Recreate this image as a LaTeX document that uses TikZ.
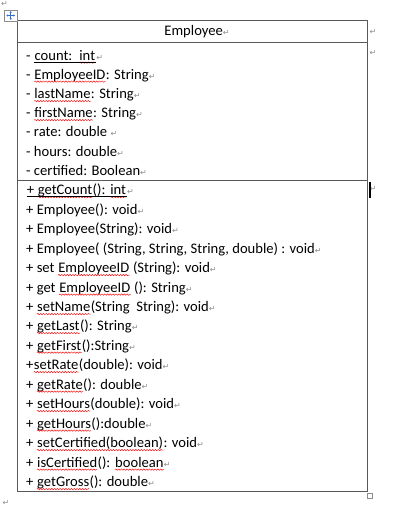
\documentclass[tikz,border=0pt]{standalone}
\usepackage{fontspec}
\setmainfont{Carlito}
\newfontfamily\dv{DejaVu Sans}
\usetikzlibrary{arrows.meta,decorations.pathmorphing}
\definecolor{border}{HTML}{595959}
\definecolor{markgray}{HTML}{8C8C8C}
\definecolor{handleblue}{HTML}{2E6FD0}
\tikzset{
  txt/.style={anchor=base west, inner sep=0pt, font=\fontsize{14.6}{16}\selectfont},
  pmark/.style={inner sep=0pt, text=markgray, font=\dv\fontsize{8}{8}\selectfont},
  tableline/.style={draw=border, line width=1pt},
  squiggle/.style={draw=red, line width=0.45pt, decorate, decoration={snake, amplitude=0.7pt, segment length=2.8pt}},
}
\newcommand\sq[1]{\tikz[baseline=(sqw.base)]{\node[inner sep=0pt, anchor=base west] (sqw) at (0,0) {#1};\draw[squiggle] ([yshift=-2.6pt]sqw.base west) -- ([yshift=-2.6pt]sqw.base east);}}
\newcommand\ul[1]{\tikz[baseline=(ulw.base)]{\node[inner sep=0pt, anchor=base west] (ulw) at (0,0) {#1};\draw[black, line width=0.9pt] ([yshift=-2pt]ulw.base west) -- ([yshift=-2pt]ulw.base east);}}
\newcommand\rt{\textcolor{markgray}{\dv\fontsize{8}{8}\selectfont ↵}}
\begin{document}
\begin{tikzpicture}[x=1pt,y=-1pt]
\useasboundingbox (0,0) rectangle (401,519);
% table frame
\coordinate (tl) at (17,21);
\coordinate (br) at (367,491);
\draw[tableline] (tl) rectangle (br);
\coordinate (h1) at (17,43);
\coordinate (h2) at (367,43);
\coordinate (s1) at (17,180.5);
\coordinate (s2) at (367,180.5);
\draw[tableline] (h1) -- (h2);
\draw[tableline] (s1) -- (s2);
% header
\node[inner sep=0pt, font=\fontsize{14.6}{16}\selectfont] (title) at (197,32) {Employee\rt};
% attributes
\node[txt] (a1) at (26,60) {- \ul{count:\ \ \sq{int}}\rt};
\node[txt] (a2) at (26,79) {- \sq{EmployeeID}: String\rt};
\node[txt] (a3) at (26,98.5) {- \sq{lastName}: String\rt};
\node[txt] (a4) at (26,117.5) {- \sq{firstName}: String\rt};
\node[txt] (a5) at (26,136.5) {- rate: double \rt};
\node[txt] (a6) at (26,156) {- hours: double\rt};
\node[txt] (a7) at (26,175) {- certified: Boolean\rt};
% methods
\node[txt] (m1) at (26,194.5) {\ul{+ \sq{getCount}(): \sq{int}}\rt};
\node[txt] (m2) at (26,214) {+ Employee(): void\rt};
\node[txt] (m3) at (26,233.5) {+ Employee(String): void\rt};
\node[txt] (m4) at (26,253) {+ Employee( (String, String, String, double) : void\rt};
\node[txt] (m5) at (26,272.5) {+ set \sq{EmployeeID} (String): void\rt};
\node[txt] (m6) at (26,292) {+ get \sq{EmployeeID} (): String\rt};
\node[txt] (m7) at (26,311.5) {+ \sq{setName}(String\ \ String): void\rt};
\node[txt] (m8) at (26,330.5) {+ \sq{getLast}(): String\rt};
\node[txt] (m9) at (26,350) {+ \sq{getFirst}():String\rt};
\node[txt] (m10) at (26,369.5) {+\sq{setRate}(double): void\rt};
\node[txt] (m11) at (26,389) {+ \sq{getRate}(): double\rt};
\node[txt] (m12) at (26,408.5) {+ \sq{setHours}(double): void\rt};
\node[txt] (m13) at (26,428) {+ \sq{getHours}():double\rt};
\node[txt] (m14) at (26,447.5) {+ \sq{setCertified(boolean)}: void\rt};
\node[txt] (m15) at (26,467) {+ \sq{isCertified}(): \sq{boolean}\rt};
\node[txt] (m16) at (26,486.5) {+ \sq{getGross}(): double\rt};
% paragraph / row-end marks outside the table
\node[pmark] (p0) at (4.5,3.5) {↵};
\node[pmark] (p1) at (373,32) {↵};
\node[pmark] (p2) at (373,53) {↵};
\node[pmark] (p3) at (373,189) {↵};
\node[pmark] (p4) at (6,503) {↵};
% text cursor
\coordinate (c1) at (370,182);
\coordinate (c2) at (370,198);
\draw[black, line width=1.8pt] (c1) -- (c2);
% table move handle
\coordinate (hd1) at (4.5,10);
\coordinate (hd2) at (17,21);
\draw[draw=markgray, fill=white, line width=0.8pt] (hd1) rectangle (hd2);
\coordinate (hc) at (10.75,15.5);
\draw[handleblue, line width=0.8pt, -{Stealth[length=1.6pt,width=2.4pt]}] (hc) -- ++(0,-4.3);
\draw[handleblue, line width=0.8pt, -{Stealth[length=1.6pt,width=2.4pt]}] (hc) -- ++(0,4.3);
\draw[handleblue, line width=0.8pt, -{Stealth[length=1.6pt,width=2.4pt]}] (hc) -- ++(-4.3,0);
\draw[handleblue, line width=0.8pt, -{Stealth[length=1.6pt,width=2.4pt]}] (hc) -- ++(4.3,0);
% resize handle
\coordinate (rz1) at (367.5,493.5);
\coordinate (rz2) at (372.5,498.5);
\draw[draw=markgray, line width=0.8pt] (rz1) rectangle (rz2);
\end{tikzpicture}
\end{document}
